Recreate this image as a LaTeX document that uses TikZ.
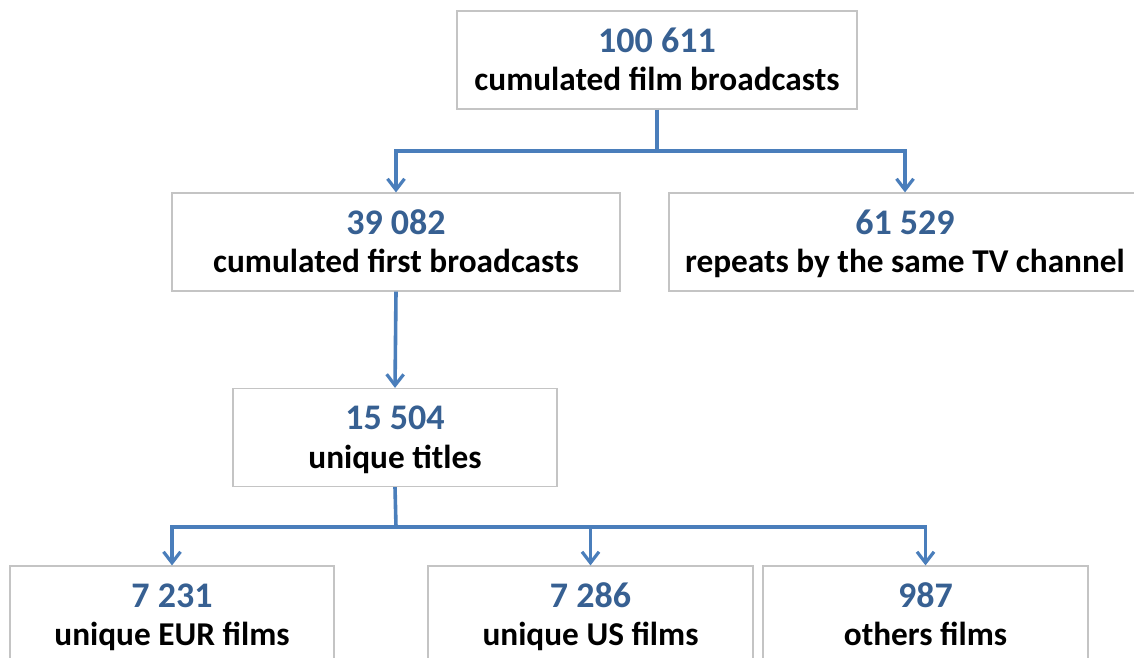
\documentclass[tikz,border=0pt]{standalone}
\usepackage{fontspec}
\setmainfont{Carlito}
\usetikzlibrary{arrows.meta}
\definecolor{numblue}{HTML}{376092}
\definecolor{lineblue}{HTML}{4A7EBB}
\definecolor{boxgray}{HTML}{C4C4C4}
\tikzset{
  box/.style={draw=boxgray, line width=1.2pt, fill=white, align=center, inner sep=0pt,
    minimum height=98pt, font=\fontsize{33.3}{38.4}\selectfont\bfseries, text=black},
  conn/.style={draw=lineblue, line width=3.6pt},
  arr/.style={conn, -{Straight Barb[length=11pt,width=17pt,line width=3.2pt]}}
}
\newcommand{\bx}[2]{\rule{0pt}{33pt}{\fontsize{36}{38.4}\selectfont\color{numblue}#1}\\#2\rule[-10pt]{0pt}{10pt}}
\begin{document}
\begin{tikzpicture}[x=1pt,y=-1pt]
\useasboundingbox (0,0) rectangle (1134,657);
\clip (0,0) rectangle (1134,657);
\fill[white] (0,0) rectangle (1134,657);
\node[box, minimum width=400pt] (top) at (657,60) {\bx{100 611}{cumulated film broadcasts}};
\node[box, minimum width=448pt] (b2) at (396,242) {\bx{39 082}{cumulated first broadcasts}};
\node[box, minimum width=472pt] (b3) at (905,242) {\bx{61 529}{repeats by the same TV channel}};
\node[box, minimum width=324pt] (b4) at (395,437.5) {\bx{15 504}{unique titles}};
\node[box, minimum width=324pt] (b5) at (172,615) {\bx{7 231}{unique EUR films}};
\node[box, minimum width=325pt] (b6) at (590.5,615) {\bx{7 286}{unique US films}};
\node[box, minimum width=325pt] (b7) at (925.5,615) {\bx{987}{others films}};
\coordinate (j1) at (657,151);
\coordinate (j2) at (396,527);
\draw[conn] (top.south) -- (j1);
\draw[arr] (j1) -| (b2.north);
\draw[arr] (j1) -| (b3.north);
\draw[arr] (b2.south) -- (b4.north);
\draw[conn] (b4.south) -- (j2);
\draw[arr] (j2) -| (b5.north);
\draw[arr] (j2) -| (b6.north);
\draw[arr] (j2) -| (b7.north);
\end{tikzpicture}
\end{document}
